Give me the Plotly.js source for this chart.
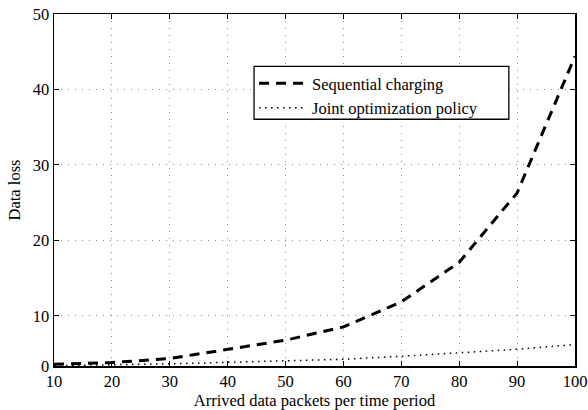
<!DOCTYPE html>
<html>
<head>
<meta charset="utf-8">
<script src="https://cdn.plot.ly/plotly-3.0.1.min.js"></script>
<style>html,body{margin:0;padding:0;background:#fff;}#chart{width:588px;height:410px;}</style>
</head>
<body>
<div id="chart"></div>
<script>
// Data (y in the chart's displayed axis units; bottom edge of the axis is labelled "0")
const arrivedPackets = [10, 20, 30, 40, 50, 60, 70, 80, 90, 100];
const sequentialCharging = [3.59, 3.82, 4.35, 5.54, 6.78, 8.54, 11.86, 17.1, 26.3, 44.4];
const jointOptimization = [3.4, 3.5, 3.65, 3.85, 4.03, 4.25, 4.65, 5.09, 5.58, 6.2];
const yTickVals = [3.36, 10, 20, 30, 40, 50];
const yTickText = ['0', '10', '20', '30', '40', '50'];
const xTickVals = [10, 20, 30, 40, 50, 60, 70, 80, 90, 100];
const seriesNames = ['Sequential charging', 'Joint optimization policy'];

const fam = '"Liberation Serif", "Times New Roman", serif';
const font = {family: fam, size: 16.5, color: '#000'};
const tickFont = {family: fam, size: 16.5, color: '#000'};

const traces = [
  {x: arrivedPackets, y: sequentialCharging, name: seriesNames[0], mode: 'lines',
   line: {color: '#000', width: 3, dash: '10px,7px'}},
  {x: arrivedPackets, y: jointOptimization, name: seriesNames[1], mode: 'lines',
   line: {color: '#000', width: 1.5, dash: '1.5px,4.5px'}}
];

const axisCommon = {
  showline: true, linecolor: '#000', linewidth: 1.5, mirror: 'ticks',
  ticks: 'inside', ticklen: 5, tickwidth: 1, tickcolor: '#000',
  showgrid: true, gridcolor: '#888', gridwidth: 1, griddash: '1px,6px',
  zeroline: false, tickfont: tickFont
};

const layout = {
  width: 588, height: 410,
  margin: {l: 54, r: 13, t: 14, b: 44},
  paper_bgcolor: '#fff', plot_bgcolor: '#fff',
  font: font,
  showlegend: true,
  legend: {x: 0.384, y: 0.852, xanchor: 'left', yanchor: 'top',
           borderwidth: 0, bgcolor: 'rgba(0,0,0,0)',
           itemwidth: 48, font: font, tracegroupgap: 0},
  shapes: [{type: 'rect', xref: 'paper', yref: 'paper',
            x0: 0.384, x1: 0.873, y0: 0.701, y1: 0.851,
            line: {color: '#000', width: 1.3}, fillcolor: '#fff', layer: 'above'}],
  xaxis: Object.assign({}, axisCommon, {
    range: [10, 100], tickvals: xTickVals,
    title: {text: 'Arrived data packets per time period', font: font, standoff: 0}
  }),
  yaxis: Object.assign({}, axisCommon, {
    range: [3.36, 50], tickvals: yTickVals, ticktext: yTickText,
    title: {text: 'Data loss', font: font, standoff: 8}
  })
};

Plotly.newPlot('chart', traces, layout, {displayModeBar: false, staticPlot: true});
</script>
</body>
</html>
